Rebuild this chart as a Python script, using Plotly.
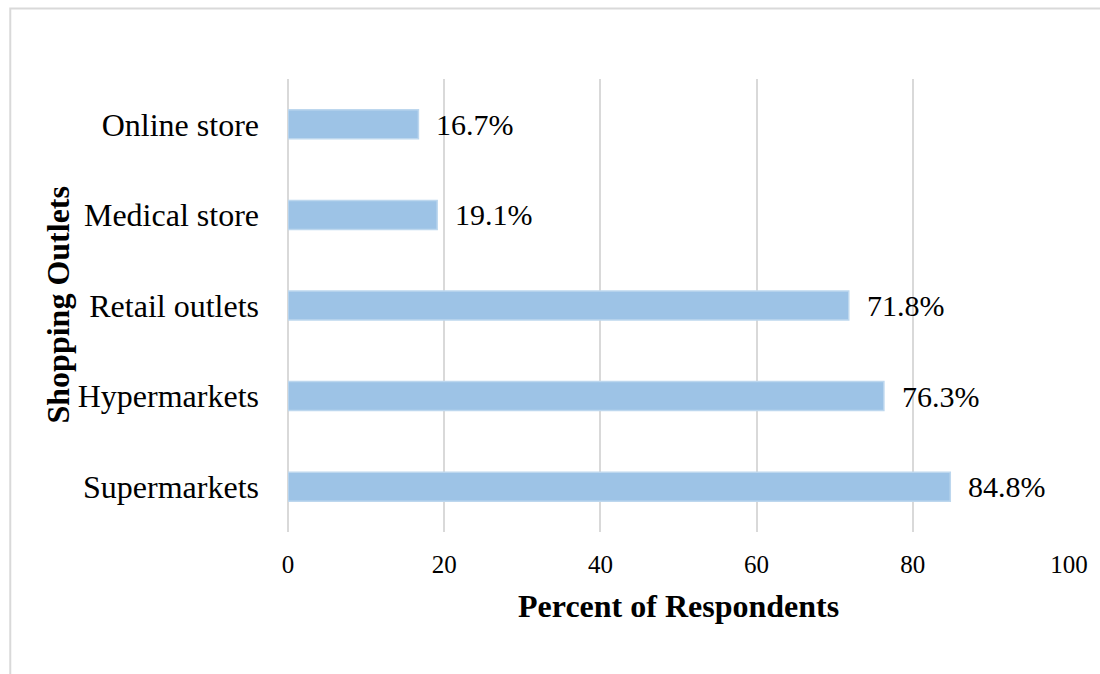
import plotly.graph_objects as go

categories = ["Supermarkets", "Hypermarkets", "Retail outlets", "Medical store", "Online store"]
values = [84.8, 76.3, 71.8, 19.1, 16.7]
labels = ["84.8%", "76.3%", "71.8%", "19.1%", "16.7%"]
x_ticks = [0, 20, 40, 60, 80, 100]

FONT = "Liberation Serif"
L, R, T, B = 288, 26, 79, 142
W, H = 1100, 674
pw, ph = W - L - R, H - T - B

fig = go.Figure()
fig.add_trace(go.Bar(
    y=categories, x=values, orientation="h",
    marker=dict(color="#9DC3E6", line=dict(color="#BDD7EE", width=1.5)),
    hoverinfo="skip",
))

for c, v, t in zip(categories, values, labels):
    fig.add_annotation(x=v, y=c, text=t, showarrow=False, xanchor="left",
                       yanchor="middle", xshift=16,
                       font=dict(family=FONT, size=30, color="#000000"))

# axis titles
fig.add_annotation(xref="paper", yref="paper", x=0.5, y=-(606 - (T + ph)) / ph,
                   text="<b>Percent of Respondents</b>", showarrow=False,
                   xanchor="center", yanchor="middle",
                   font=dict(family=FONT, size=32, color="#000000"))
fig.add_annotation(xref="paper", yref="paper", x=(57 - L) / pw, y=((T + ph) - 305) / ph,
                   text="<b>Shopping Outlets</b>", showarrow=False, textangle=-90,
                   xanchor="center", yanchor="middle",
                   font=dict(family=FONT, size=32, color="#000000"))

# chart border
fig.add_shape(type="rect", xref="paper", yref="paper",
              x0=(8.5 - L) / pw, x1=(1110 - L) / pw,
              y0=((T + ph) - 690) / ph, y1=((T + ph) - 8.5) / ph,
              line=dict(color="#D9D9D9", width=2), fillcolor="rgba(0,0,0,0)", layer="below")

fig.update_layout(
    width=W, height=H,
    margin=dict(l=L, r=R, t=T, b=B, pad=0),
    paper_bgcolor="#FFFFFF", plot_bgcolor="#FFFFFF",
    bargap=0.68, showlegend=False,
    font=dict(family=FONT, color="#000000"),
)
fig.update_xaxes(range=[0, 100], tickvals=x_ticks, ticktext=[str(v) for v in x_ticks],
                 showgrid=True, gridcolor="#D9D9D9", gridwidth=1.5,
                 zeroline=True, zerolinecolor="#D9D9D9", zerolinewidth=1.5,
                 showline=False, ticks="", ticklabelstandoff=15,
                 tickfont=dict(family=FONT, size=25, color="#000000"), fixedrange=True)
fig.update_yaxes(categoryorder="array", categoryarray=categories,
                 showgrid=False, zeroline=False, showline=False, ticks="",
                 ticklabelstandoff=28,
                 tickfont=dict(family=FONT, size=32, color="#000000"), fixedrange=True)

fig.write_html("out.html")
